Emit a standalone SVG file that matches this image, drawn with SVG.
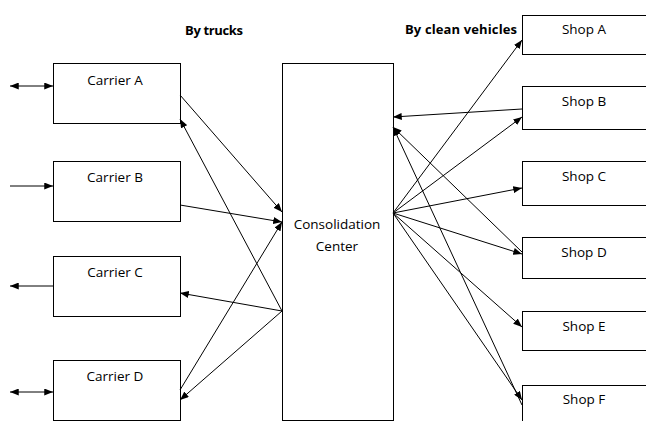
<svg xmlns="http://www.w3.org/2000/svg" width="646" height="421" viewBox="0 0 646 421">
<style>
.box{fill:#fff;stroke:#000;stroke-width:1}
.lbl{font-family:"Open Sans","Liberation Sans",sans-serif;font-size:13.5px;fill:#000;text-anchor:middle}
.ttl{font-family:"Open Sans","Liberation Sans",sans-serif;font-size:13px;font-weight:bold;fill:#000}
.c line{stroke:#000;stroke-width:1;fill:none}
.e{marker-end:url(#ah)}
.s{marker-start:url(#ahs)}
</style>
<defs>
<marker id="ah" viewBox="0 0 10 8" refX="10" refY="4" markerWidth="9" markerHeight="7" markerUnits="userSpaceOnUse" orient="auto"><path d="M0,0 L10,4 L0,8 z" fill="#000"/></marker>
<marker id="ahs" viewBox="0 0 10 8" refX="0" refY="4" markerWidth="9" markerHeight="7" markerUnits="userSpaceOnUse" orient="auto"><path d="M10,0 L0,4 L10,8 z" fill="#000"/></marker>
</defs>
<rect width="646" height="421" fill="#fff"/>
<text class="ttl" x="185" y="35" textLength="58">By trucks</text>
<text class="ttl" x="405" y="34" textLength="112">By clean vehicles</text>
<g id="carrierA"><rect class="box" x="53.5" y="63.5" width="127" height="60"/><text class="lbl" x="115" y="85">Carrier A</text></g>
<g id="carrierB"><rect class="box" x="53.5" y="161.5" width="127" height="60"/><text class="lbl" x="115" y="182">Carrier B</text></g>
<g id="carrierC"><rect class="box" x="53.5" y="256.5" width="127" height="60"/><text class="lbl" x="115" y="277">Carrier C</text></g>
<g id="carrierD"><rect class="box" x="53.5" y="360.5" width="127" height="60"/><text class="lbl" x="115" y="381">Carrier D</text></g>
<g id="center"><rect class="box" x="282.5" y="63.5" width="111" height="357"/><text class="lbl" x="337" y="229">Consolidation</text><text class="lbl" x="337" y="251">Center</text></g>
<g id="shopA"><rect class="box" x="522.5" y="15.5" width="130" height="39"/><text class="lbl" x="584" y="34">Shop A</text></g>
<g id="shopB"><rect class="box" x="522.5" y="86.5" width="130" height="43"/><text class="lbl" x="584" y="106">Shop B</text></g>
<g id="shopC"><rect class="box" x="522.5" y="161.5" width="130" height="44"/><text class="lbl" x="584" y="181">Shop C</text></g>
<g id="shopD"><rect class="box" x="522.5" y="237.5" width="130" height="41"/><text class="lbl" x="584" y="257">Shop D</text></g>
<g id="shopE"><rect class="box" x="522.5" y="311.5" width="130" height="39"/><text class="lbl" x="584" y="331">Shop E</text></g>
<g id="shopF"><rect class="box" x="522.5" y="385.5" width="130" height="50"/><text class="lbl" x="584" y="404">Shop F</text></g>
<g id="connectors" class="c">
<line class="s e" x1="10" y1="86" x2="53" y2="86"/>
<line class="e" x1="10" y1="186" x2="53" y2="186"/>
<line class="e" x1="53" y1="286" x2="10" y2="286"/>
<line class="s e" x1="10" y1="392" x2="53" y2="392"/>
<line class="e" x1="180" y1="95" x2="282" y2="212"/>
<line class="e" x1="282" y1="311" x2="180" y2="119"/>
<line class="e" x1="180" y1="205" x2="282" y2="222"/>
<line class="e" x1="282" y1="311" x2="180" y2="293"/>
<line class="e" x1="180" y1="390" x2="282" y2="222"/>
<line class="e" x1="282" y1="311" x2="180" y2="400"/>
<line class="e" x1="393" y1="213" x2="522" y2="40"/>
<line class="e" x1="393" y1="213" x2="522" y2="117"/>
<line class="e" x1="393" y1="213" x2="522" y2="188"/>
<line class="e" x1="393" y1="213" x2="522" y2="254"/>
<line class="e" x1="393" y1="213" x2="522" y2="327"/>
<line class="e" x1="393" y1="213" x2="522" y2="400"/>
<line class="e" x1="522" y1="109" x2="393" y2="117"/>
<line class="e" x1="522" y1="252" x2="393" y2="127"/>
<line class="e" x1="522" y1="405" x2="393" y2="127"/>
</g>
</svg>
